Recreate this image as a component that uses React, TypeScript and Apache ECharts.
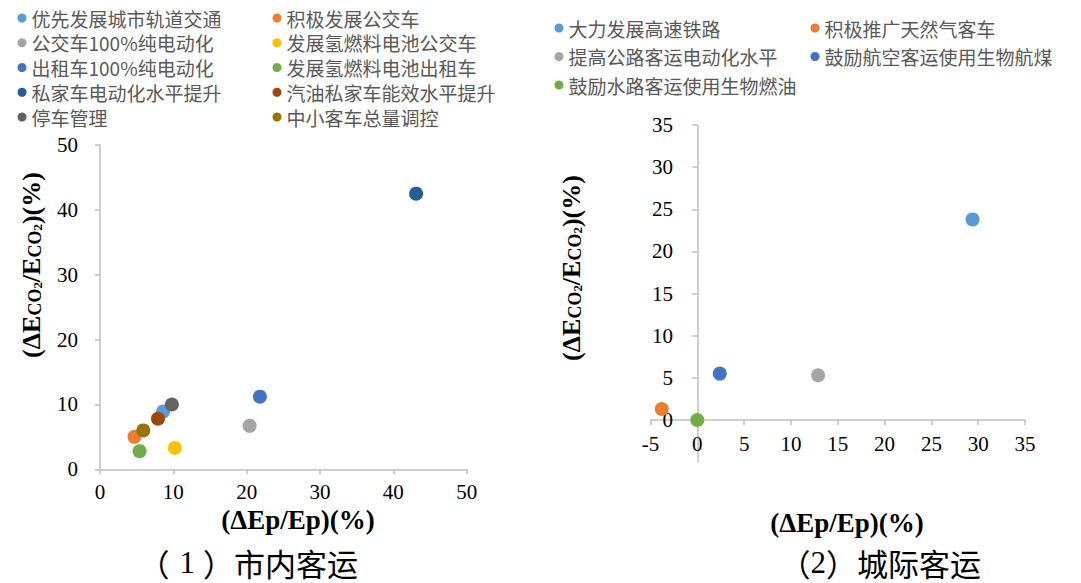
import React, { useEffect, useRef } from "react";
import * as echarts from "echarts";

const leftNames = [
  "优先发展城市轨道交通",
  "积极发展公交车",
  "公交车100%纯电动化",
  "发展氢燃料电池公交车",
  "出租车100%纯电动化",
  "发展氢燃料电池出租车",
  "私家车电动化水平提升",
  "汽油私家车能效水平提升",
  "停车管理",
  "中小客车总量调控",
];
const leftX = [8.6, 4.7, 20.4, 10.2, 21.8, 5.4, 43.1, 7.9, 9.8, 5.9];
const leftY = [8.9, 5.0, 6.7, 3.3, 11.2, 2.8, 42.5, 7.8, 10.0, 6.0];
const leftColors = [
  "#5B9BD5", "#ED7D31", "#A5A5A5", "#FFC000", "#4472C4",
  "#70AD47", "#255E91", "#9E480E", "#636363", "#997300",
];

const rightNames = [
  "大力发展高速铁路",
  "积极推广天然气客车",
  "提高公路客运电动化水平",
  "鼓励航空客运使用生物航煤",
  "鼓励水路客运使用生物燃油",
];
const rightX = [29.4, -3.8, 12.9, 2.4, 0];
const rightY = [23.8, 1.3, 5.3, 5.5, 0];
const rightColors = ["#5B9BD5", "#ED7D31", "#A5A5A5", "#4472C4", "#70AD47"];

const leftTicks = { min: 0, max: 50, interval: 10 };
const rightTicks = { min: -5, max: 35, interval: 5 };

const xName = "(ΔEp/Ep)(%)";
const yNameRich = "{b|(ΔE}{s|CO}{ss|2}{b|/E}{s|CO}{ss|2}{b|)(%)}";
const caption1 = "{p1|（}{d|1}{p2|）}{c|市内客运}";
const caption2 = "{p1|（}{d|2}{p2|）}{c|城际客运}";

const AXIS_COLOR = "#BFBFBF";
const SERIF = "Liberation Serif";
const CJK = "Noto Sans CJK SC";

function axisBase(gridIndex: number, t: { min: number; max: number; interval: number }, margin: number, hideMin = false) {
  return {
    type: "value",
    gridIndex,
    min: t.min,
    max: t.max,
    interval: t.interval,
    splitLine: { show: false },
    axisLine: { show: true, lineStyle: { color: AXIS_COLOR, width: 1.5 } },
    axisTick: { show: true, inside: false, length: 5, lineStyle: { color: AXIS_COLOR, width: 1.5 } },
    axisLabel: {
      fontSize: 21,
      fontFamily: SERIF,
      color: "#000",
      margin,
      showMinLabel: !hideMin,
    },
  };
}

const richStyles = {
  b: { fontSize: 26, fontWeight: "bold", fontFamily: SERIF, color: "#000", lineHeight: 26, verticalAlign: "top" },
  s: { fontSize: 18, fontWeight: "bold", fontFamily: SERIF, color: "#000", lineHeight: 18, padding: [13, 0, 0, 0], verticalAlign: "bottom" },
  ss: { fontSize: 13, fontWeight: "bold", fontFamily: SERIF, color: "#000", lineHeight: 13, padding: [19, 0, 0, 0], verticalAlign: "bottom" },
};

function captionRich(padA: number, padB: number, padC: number) {
  const base = { fontSize: 31, fontFamily: CJK, color: "#000", lineHeight: 34 };
  return {
    p1: { ...base, padding: [0, padA, 0, 0] },
    d: { ...base, fontFamily: SERIF, padding: [0, padB, 0, 0] },
    p2: { ...base, padding: [0, padC, 0, 0] },
    c: { ...base },
  };
}

function legendCol(names: string[], left: number, top: number, gap: number) {
  return {
    orient: "vertical",
    left,
    top,
    padding: 0,
    itemGap: gap,
    itemWidth: 9,
    itemHeight: 9,
    icon: "circle",
    data: names,
    textStyle: { fontSize: 19, color: "#595959", fontFamily: CJK, lineHeight: 20 },
  };
}

export default function App() {
  const ref = useRef<HTMLDivElement>(null);
  useEffect(() => {
    if (!ref.current) return;
    const chart = echarts.init(ref.current, undefined, { renderer: "svg" });
    const series: any[] = [];
    leftNames.forEach((n, i) => {
      series.push({
        type: "scatter",
        name: n,
        xAxisIndex: 0,
        yAxisIndex: 0,
        symbolSize: 14,
        itemStyle: { color: leftColors[i], opacity: 1 },
        data: [[leftX[i], leftY[i]]],
      });
    });
    rightNames.forEach((n, i) => {
      series.push({
        type: "scatter",
        name: n,
        xAxisIndex: 1,
        yAxisIndex: 1,
        symbolSize: 14,
        itemStyle: { color: rightColors[i], opacity: 1 },
        data: [[rightX[i], rightY[i]]],
      });
    });
    const option: any = {
      animation: false,
      backgroundColor: "#fff",
      grid: [
        { left: 100, top: 145, width: 366.7, height: 324.3 },
        { left: 650.5, top: 125, width: 374.5, height: 337.1 },
      ],
      legend: [
        legendCol(leftNames.filter((_, i) => i % 2 === 0), 17.5, 8, 4.75),
        legendCol(leftNames.filter((_, i) => i % 2 === 1), 272.5, 8, 4.75),
        legendCol(rightNames.filter((_, i) => i % 2 === 0), 554.5, 18, 8.5),
        legendCol(rightNames.filter((_, i) => i % 2 === 1), 810.5, 18, 8.5),
      ],
      xAxis: [axisBase(0, leftTicks, 12), axisBase(1, rightTicks, -29)],
      yAxis: [axisBase(0, leftTicks, 22), axisBase(1, rightTicks, -22.5, true)],
      series,
      graphic: [
        {
          type: "text", x: 31, y: 265, rotation: Math.PI / 2,
          style: { text: yNameRich, rich: richStyles, align: "center", verticalAlign: "middle" },
        },
        {
          type: "text", x: 571, y: 268, rotation: Math.PI / 2,
          style: { text: yNameRich, rich: richStyles, align: "center", verticalAlign: "middle" },
        },
        {
          type: "text", x: 298, y: 520,
          style: { text: xName, fontSize: 27, fontWeight: "bold", fontFamily: SERIF, fill: "#000", align: "center", verticalAlign: "middle" },
        },
        {
          type: "text", x: 847, y: 523,
          style: { text: xName, fontSize: 27, fontWeight: "bold", fontFamily: SERIF, fill: "#000", align: "center", verticalAlign: "middle" },
        },
        {
          type: "text", x: 358, y: 562,
          style: { text: caption1, rich: captionRich(10, 8, 0), align: "right", verticalAlign: "middle" },
        },
        {
          type: "text", x: 981, y: 562,
          style: { text: caption2, rich: captionRich(0, 0, 0), align: "right", verticalAlign: "middle" },
        },
      ],
    };
    chart.setOption(option);
    return () => chart.dispose();
  }, []);
  return (
    <div
      ref={ref}
      style={{ position: "fixed", left: 0, top: 0, width: 1081, height: 583 }}
    />
  );
}
